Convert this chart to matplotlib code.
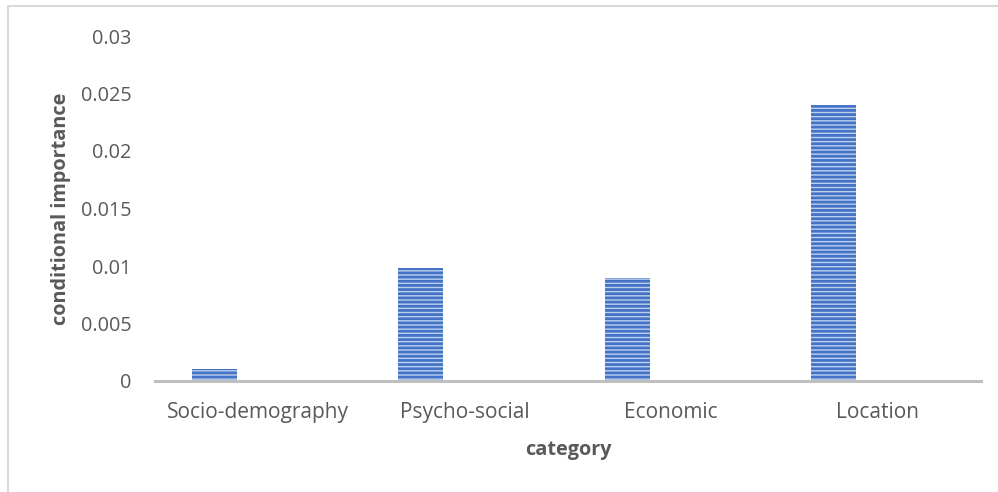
import matplotlib.pyplot as plt
from matplotlib.patches import Rectangle

categories = ["Socio-demography", "Psycho-social", "Economic", "Location"]
importance = [0.00105, 0.0098, 0.0090, 0.0240]
y_ticks = [0, 0.005, 0.01, 0.015, 0.02, 0.025, 0.03]
y_tick_labels = ["0", "0.005", "0.01", "0.015", "0.02", "0.025", "0.03"]

plt.rcParams['font.family'] = ['Open Sans', 'DejaVu Sans']
plt.rcParams['hatch.linewidth'] = 2.0
plt.rcParams['hatch.color'] = '#4472C4'

fig = plt.figure(figsize=(9.98, 4.92), dpi=100)
ax = fig.add_axes([155 / 998, 111 / 492, 826 / 998, 345 / 492])

# barres décalées vers la gauche, comme dans Excel
pos = [i - 0.213 for i in range(len(categories))]
ax.bar(pos, importance, width=0.218, color='#BCD0F0', edgecolor='#4472C4',
       hatch='----', linewidth=0)

ax.set_xlim(-0.5, len(categories) - 0.5)
ax.set_ylim(0, 0.03)
ax.set_xticks(range(len(categories)))
ax.set_xticklabels(categories)
ax.set_yticks(y_ticks)
ax.set_yticklabels(y_tick_labels)
ax.tick_params(axis='y', length=0, labelsize=14.3, labelcolor='#595959', pad=17)
ax.tick_params(axis='x', length=0, labelsize=15, labelcolor='#595959', pad=15)

for s in ['top', 'right', 'left']:
    ax.spines[s].set_visible(False)
ax.spines['bottom'].set_color('#BFBFBF')
ax.spines['bottom'].set_linewidth(2.2)

ax.set_xlabel('category', fontsize=14.3, fontweight='bold', color='#595959', labelpad=12)
ax.set_ylabel('conditional importance', fontsize=14.3, fontweight='bold', color='#595959', labelpad=7)

# cadre du graphique
fig.patches.append(Rectangle((8 / 998, -0.1), 1.2, 1 - 6 / 492 + 0.1,
                             transform=fig.transFigure, fill=False,
                             edgecolor='#D9D9D9', linewidth=1.5))

fig.savefig('out.png', dpi=100)
